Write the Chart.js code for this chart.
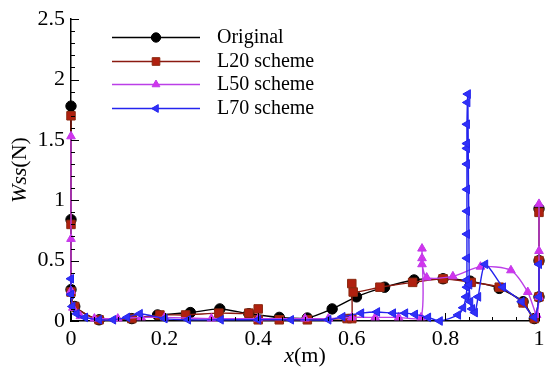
<!DOCTYPE html>
<html><head><meta charset="utf-8">
<script src="https://cdn.jsdelivr.net/npm/chart.js@4/dist/chart.umd.min.js"></script>
<style>html,body{margin:0;padding:0;background:#fff}</style>
</head><body>
<canvas id="c" width="550" height="378"></canvas>
<script>
const seriesNames = ['Original', 'L20 scheme', 'L50 scheme', 'L70 scheme'];

const origX = [0, 0, 0, 0.008, 0.06, 0.13, 0.185, 0.255, 0.318, 0.38, 0.445, 0.505, 0.558, 0.61, 0.67, 0.733, 0.795, 0.853, 0.915, 0.966, 0.99, 1, 1, 1];
const origY = [1.78, 0.84, 0.26, 0.12, 0.01, 0.02, 0.05, 0.07, 0.10, 0.06, 0.03, 0.025, 0.10, 0.20, 0.28, 0.34, 0.35, 0.33, 0.27, 0.16, 0.02, 0.2, 0.5, 0.93];

const l20X = [0, 0, 0, 0.008, 0.06, 0.13, 0.19, 0.245, 0.316, 0.38, 0.40, 0.40, 0.445, 0.505, 0.59, 0.60, 0.60, 0.603, 0.66, 0.73, 0.795, 0.855, 0.915, 0.966, 0.99, 1, 1, 1];
const l20Y = [1.70, 0.80, 0.24, 0.12, 0.01, 0.02, 0.05, 0.05, 0.065, 0.065, 0.10, 0.01, 0.01, 0.01, 0.02, 0.02, 0.31, 0.24, 0.28, 0.32, 0.35, 0.32, 0.28, 0.15, 0.02, 0.2, 0.5, 0.9];

const l50X = [0, 0, 0, 0.004, 0.02, 0.05, 0.1, 0.15, 0.2, 0.3, 0.4, 0.5, 0.55, 0.6, 0.65, 0.7, 0.748, 0.75, 0.75, 0.75, 0.76, 0.816, 0.875, 0.94, 0.976, 0.995, 1, 1, 1];
const l50Y = [1.53, 0.68, 0.25, 0.11, 0.04, 0.02, 0.02, 0.03, 0.03, 0.02, 0.02, 0.02, 0.02, 0.03, 0.03, 0.03, 0.03, 0.60, 0.52, 0.47, 0.36, 0.37, 0.45, 0.42, 0.24, 0.05, 0.2, 0.58, 0.97];

const l70X = [0, 0, 0.003, 0.012, 0.03, 0.06, 0.09, 0.12, 0.147, 0.2, 0.25, 0.32, 0.4, 0.47, 0.55, 0.58, 0.62, 0.654, 0.688, 0.714, 0.735, 0.763, 0.788, 0.827, 0.838, 0.844, 0.846, 0.846, 0.846, 0.846, 0.846, 0.846, 0.846, 0.846, 0.846, 0.846, 0.847, 0.848, 0.851, 0.853, 0.857, 0.863, 0.87, 0.885, 0.923, 0.963, 0.99, 1, 1];
const l70Y = [0.35, 0.22, 0.12, 0.06, 0.03, 0.01, 0.01, 0.03, 0.06, 0.02, 0.01, 0.01, 0.01, 0.01, 0.01, 0.035, 0.065, 0.075, 0.065, 0.065, 0.055, 0.03, 0.0, 0.05, 0.11, 0.2, 0.28, 0.34, 0.52, 0.72, 0.91, 1.09, 1.30, 1.43, 1.47, 1.63, 1.81, 1.88, 0.30, 0.16, 0.10, 0.07, 0.2, 0.47, 0.28, 0.16, 0.03, 0.2, 0.47];

const xTicks = [0, 0.2, 0.4, 0.6, 0.8, 1];
const yTicks = [0, 0.5, 1, 1.5, 2, 2.5];
const xMinorTicks = [0.05, 0.1, 0.15, 0.25, 0.3, 0.35, 0.45, 0.5, 0.55, 0.65, 0.7, 0.75, 0.85, 0.9, 0.95];
const yMinorTicks = [0.1, 0.2, 0.3, 0.4, 0.6, 0.7, 0.8, 0.9, 1.1, 1.2, 1.3, 1.4, 1.6, 1.7, 1.8, 1.9, 2.1, 2.2, 2.3, 2.4];

const SERIF = '"Liberation Serif", "Times New Roman", serif';

function pts(xs, ys) { return xs.map((x, i) => ({ x: x, y: ys[i] })); }

const datasets = [
  { label: seriesNames[0], data: pts(origX, origY), borderColor: '#000000', backgroundColor: '#000000',
    pointBackgroundColor: '#000000', pointBorderColor: '#000000', pointStyle: 'circle', pointRadius: 5.2, order: 3 },
  { label: seriesNames[1], data: pts(l20X, l20Y), borderColor: '#8B1A10', backgroundColor: '#CC1111',
    pointBackgroundColor: '#B0200F', pointBorderColor: '#8B2A10', pointStyle: 'rect', pointRadius: 6, order: 2 },
  { label: seriesNames[2], data: pts(l50X, l50Y), borderColor: '#BB3FE8', backgroundColor: '#DD33EE',
    pointBackgroundColor: '#D233EE', pointBorderColor: '#C03AE8', pointStyle: 'triangle', pointRadius: 5, order: 1 },
  { label: seriesNames[3], data: pts(l70X, l70Y), borderColor: '#2424EE', backgroundColor: '#3333FF',
    pointBackgroundColor: '#3030F8', pointBorderColor: '#2424EE', pointStyle: 'triangle', pointRotation: -90, pointRadius: 5, order: 0 }
];
datasets.forEach(d => { d.showLine = true; d.borderWidth = 1.4; d.pointBorderWidth = 1; d.tension = 0.25; d.pointHoverRadius = d.pointRadius; d.clip = false; });

const decorPlugin = {
  id: 'decor',
  afterDraw(chart) {
    const ctx = chart.ctx;
    const xs = chart.scales.x, ys = chart.scales.y;
    const a = chart.chartArea;
    ctx.save();
    ctx.strokeStyle = '#000';
    ctx.lineWidth = 1;
    yTicks.forEach(v => { const p = Math.round(ys.getPixelForValue(v)) + 0.5; ctx.beginPath(); ctx.moveTo(a.left, p); ctx.lineTo(a.left + 8, p); ctx.stroke(); });
    yMinorTicks.forEach(v => { const p = Math.round(ys.getPixelForValue(v)) + 0.5; ctx.beginPath(); ctx.moveTo(a.left, p); ctx.lineTo(a.left + 4, p); ctx.stroke(); });
    xTicks.forEach(v => { const p = Math.round(xs.getPixelForValue(v)) + 0.5; ctx.beginPath(); ctx.moveTo(p, a.bottom); ctx.lineTo(p, a.bottom - 8); ctx.stroke(); });
    xMinorTicks.forEach(v => { const p = Math.round(xs.getPixelForValue(v)) + 0.5; ctx.beginPath(); ctx.moveTo(p, a.bottom); ctx.lineTo(p, a.bottom - 4); ctx.stroke(); });

    ctx.fillStyle = '#000';
    ctx.textBaseline = 'middle';
    const xt1 = 'x', xt2 = '(m)';
    ctx.font = 'italic 22px ' + SERIF;
    const w1 = ctx.measureText(xt1).width;
    ctx.font = '22px ' + SERIF;
    const w2 = ctx.measureText(xt2).width;
    const cx = (a.left + a.right) / 2;
    let sx = cx - (w1 + w2) / 2;
    ctx.textAlign = 'left';
    ctx.font = 'italic 22px ' + SERIF; ctx.fillText(xt1, sx, 356);
    ctx.font = '22px ' + SERIF; ctx.fillText(xt2, sx + w1, 356);
    ctx.save();
    ctx.translate(20, (a.top + a.bottom) / 2);
    ctx.rotate(-Math.PI / 2);
    const yt1 = 'Wss', yt2 = '(N)';
    ctx.font = 'italic 22px ' + SERIF;
    const v1 = ctx.measureText(yt1).width;
    ctx.font = '22px ' + SERIF;
    const v2 = ctx.measureText(yt2).width;
    let sy = -(v1 + v2) / 2;
    ctx.font = 'italic 22px ' + SERIF; ctx.fillText(yt1, sy, 0);
    ctx.font = '22px ' + SERIF; ctx.fillText(yt2, sy + v1, 0);
    ctx.restore();

    const rows = [37, 61, 84, 108];
    chart.data.datasets.forEach((d, i) => {
      const y = rows[i] + 0.5;
      ctx.strokeStyle = d.borderColor;
      ctx.lineWidth = 1.4;
      ctx.beginPath(); ctx.moveTo(112, y); ctx.lineTo(200, y); ctx.stroke();
      ctx.fillStyle = d.pointBackgroundColor;
      ctx.strokeStyle = d.pointBorderColor;
      ctx.lineWidth = 1;
      if (Chart.helpers && Chart.helpers.drawPoint) {
        Chart.helpers.drawPoint(ctx, { pointStyle: d.pointStyle, rotation: d.pointRotation || 0, radius: d.pointRadius * 0.9, borderWidth: 1 }, 156, y);
      }
      ctx.fillStyle = '#000';
      ctx.font = '20px ' + SERIF;
      ctx.textAlign = 'left';
      ctx.textBaseline = 'middle';
      ctx.fillText(d.label, 217, rows[i] + 1);
    });
    ctx.restore();
  }
};

new Chart(document.getElementById('c'), {
  type: 'scatter',
  data: { datasets: datasets },
  options: {
    responsive: false,
    animation: false,
    devicePixelRatio: 1,
    layout: { padding: { left: 0, top: 16, right: 11, bottom: 0 } },
    plugins: { legend: { display: false }, tooltip: { enabled: false } },
    scales: {
      x: {
        type: 'linear', min: 0, max: 1,
        afterFit(s) { s.height = 57; },
        afterBuildTicks(s) { s.ticks = xTicks.map(v => ({ value: v })); },
        grid: { display: false, drawTicks: false },
        border: { display: true, color: '#000', width: 1.5 },
        ticks: { autoSkip: false, maxRotation: 0, padding: 5, color: '#000', font: { family: SERIF, size: 22 },
                 callback: v => String(v) }
      },
      y: {
        type: 'linear', min: 0, max: 2.5,
        afterFit(s) { s.width = 71; },
        afterBuildTicks(s) { s.ticks = yTicks.map(v => ({ value: v })); },
        grid: { display: false, drawTicks: false },
        border: { display: true, color: '#000', width: 1.5 },
        ticks: { autoSkip: false, padding: 6, color: '#000', font: { family: SERIF, size: 22 },
                 callback: v => String(v) }
      }
    }
  },
  plugins: [decorPlugin]
});
</script>
</body></html>
